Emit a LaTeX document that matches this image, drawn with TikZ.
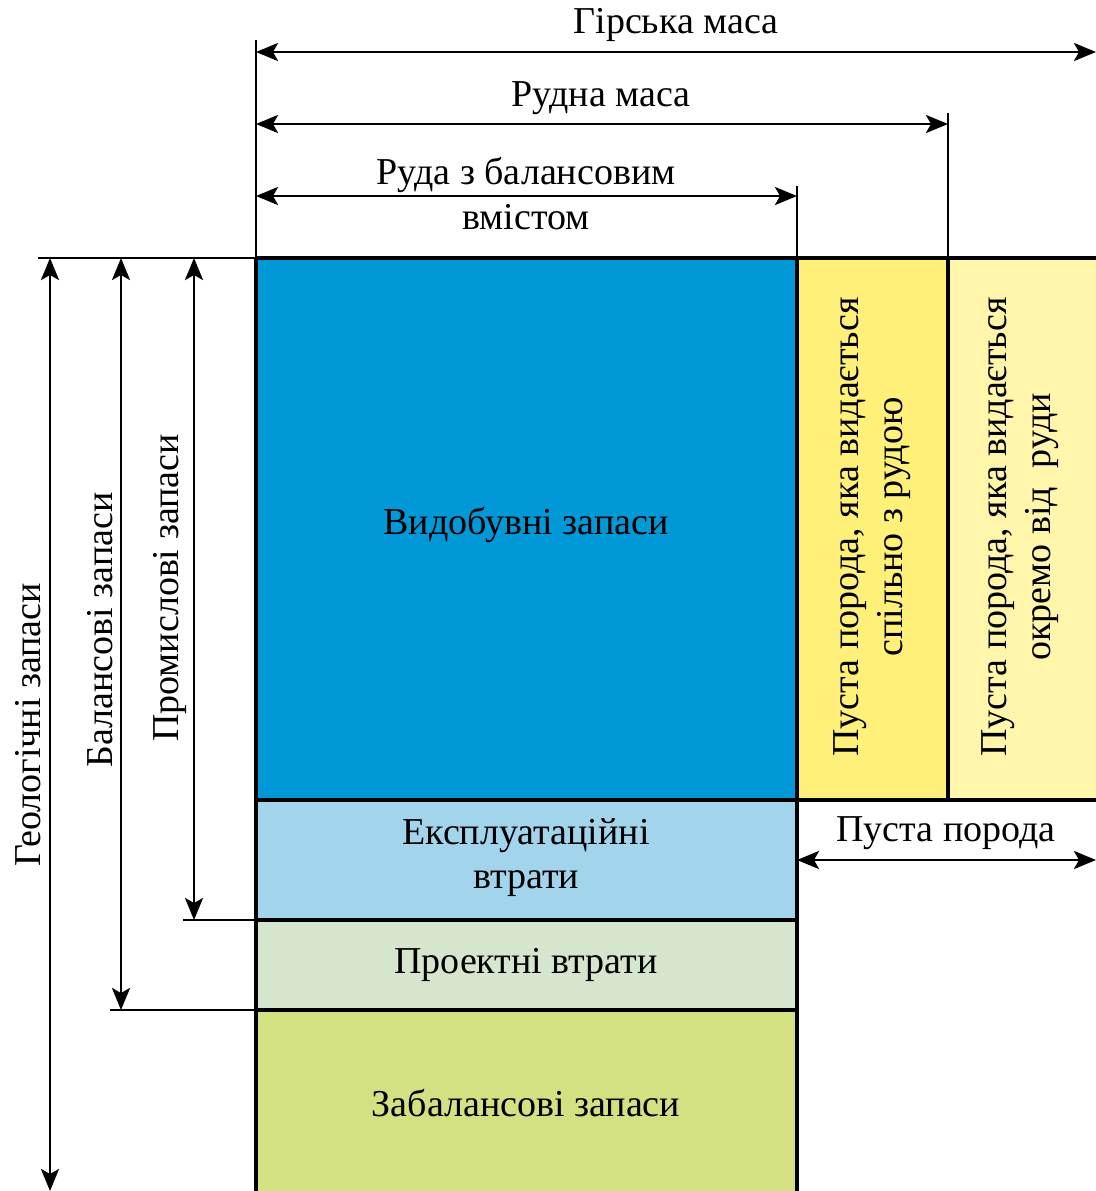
\documentclass[tikz,border=0pt]{standalone}
\usepackage{fontspec}
\setmainfont{Liberation Serif}
\usetikzlibrary{arrows.meta}
\definecolor{vydob}{RGB}{0,152,215}
\definecolor{ekspl}{RGB}{162,212,236}
\definecolor{proekt}{RGB}{214,230,206}
\definecolor{zabal}{RGB}{212,224,130}
\definecolor{pusta}{RGB}{255,240,122}
\definecolor{okremo}{RGB}{255,246,172}
\tikzset{
  dim/.style={{Stealth[length=11pt,width=9pt,inset=2.5pt]}-{Stealth[length=11pt,width=9pt,inset=2.5pt]},line width=1.4pt},
  tick/.style={line width=1pt},
  lbl/.style={font=\fontsize{19}{22}\selectfont,inner sep=0pt,align=center},
}
\begin{document}
\begin{tikzpicture}[x=0.5pt,y=-0.5pt]
      \useasboundingbox (0,0) rectangle (1096,1191);
      % blocks
      \fill[vydob] (256,258) rectangle (797,800);
      \fill[pusta] (797,258) rectangle (948,800);
      \fill[okremo] (948,258) rectangle (1096,800);
      \fill[ekspl] (256,800) rectangle (797,920);
      \fill[proekt] (256,920) rectangle (797,1010);
      \fill[zabal] (256,1010) rectangle (797,1191);
      \draw[line width=2pt] (256,258) -- (1096,258) (256,800) -- (1096,800) (256,920) -- (797,920) (256,1010) -- (797,1010);
      \draw[line width=2pt] (256,258) -- (256,1191) (797,258) -- (797,1191) (948,258) -- (948,800);
      % tick lines
      \coordinate (g0) at (256,40);
      \coordinate (r1) at (948,113);
      \coordinate (b1) at (797,186);
      \draw[tick] (g0) -- (256,258) (r1) -- (948,258) (b1) -- (797,258);
      \draw[tick] (38,258) -- (256,258) (183,920) -- (256,920) (110,1010) -- (256,1010);
      % top dimensions
      \draw[dim] (256,52) -- (1096,52);
      \draw[dim] (256,124) -- (948,124);
      \draw[dim] (256,196) -- (797,196);
      \node[lbl] (girska) at (676,25) {Гірська маса};
      \node[lbl] (rudna) at (601,98) {Рудна маса};
      \node[lbl] (ruda) at (526,175) {Руда з балансовим};
      \node[lbl] (vmist) at (526,217) {вмістом};
      % left dimensions
      \draw[dim] (50,258) -- (50,1191);
      \draw[dim] (121,258) -- (121,1010);
      \draw[dim] (194,258) -- (194,920);
      \node[lbl,rotate=90] (geol) at (28,725) {Геологічні запаси};
      \node[lbl,rotate=90] (bal) at (100,630) {Балансові запаси};
      \node[lbl,rotate=90] (prom) at (170,588) {Промислові запаси};
      % waste rock
      \draw[dim] (797,860) -- (1096,860);
      \node[lbl] (pporoda) at (946,833) {Пуста порода};
      \node[lbl,rotate=90] (spilno) at (872,527) {Пуста порода, яка видається\\спільно з рудою};
      \node[lbl,rotate=90] (okr) at (1020,527) {Пуста порода, яка видається\\окремо від~~руди};
      % block labels
      \node[lbl] (vyd) at (526,525) {Видобувні запаси};
      \node[lbl] (eks) at (526,858) {Експлуатаційні\\втрати};
      \node[lbl] (proe) at (526,965) {Проектні втрати};
      \node[lbl] (zab) at (526,1103) {Забалансові запаси};
\end{tikzpicture}
\end{document}
